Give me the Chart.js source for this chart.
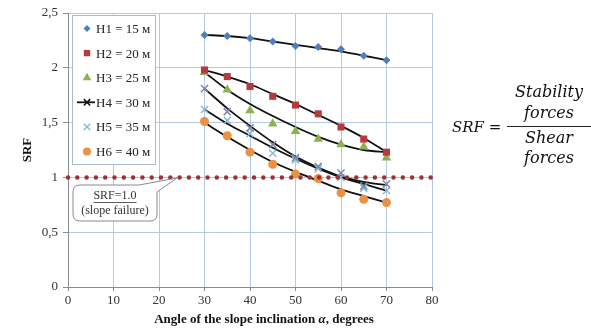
<!DOCTYPE html>
<html>
<head>
<meta charset="utf-8">
<script src="https://cdn.jsdelivr.net/npm/chart.js@4.4.0/dist/chart.umd.min.js"></script>
<style>
  body { margin: 0; background: #fff; }
  #wrap { position: relative; width: 591px; height: 329px; }
  #formula {
    position: absolute; left: 0; top: 0; width: 591px; height: 329px;
    font-family: 'DejaVu Serif', serif; font-style: italic; font-size: 16px; color: #111;
    pointer-events: none;
  }
  #formula div { position: absolute; white-space: nowrap; }
  .num { text-align: center; width: 86px; left: 506px; }
</style>
</head>
<body>
<div id="wrap">
  <canvas id="srfChart" width="591" height="329"></canvas>
  <div id="formula">
    <div style="left:452px; top:118px; font-size:15px;">SRF =</div>
    <div class="num" style="top:82px;">Stability</div>
    <div class="num" style="top:103px;">forces</div>
    <div style="left:507px; top:126px; width:84px; height:0; border-top:1.3px solid #222;"></div>
    <div class="num" style="top:128px;">Shear</div>
    <div class="num" style="top:148px;">forces</div>
  </div>
</div>
<script>
// slope angle, degrees
const angles = [30, 35, 40, 45, 50, 55, 60, 65, 70];

// SRF values
const h1 = [2.30, 2.29, 2.27, 2.24, 2.20, 2.19, 2.17, 2.11, 2.07];
const h2 = [1.98, 1.92, 1.83, 1.74, 1.66, 1.58, 1.46, 1.35, 1.23];
const h3 = [1.96, 1.80, 1.61, 1.49, 1.42, 1.35, 1.30, 1.28, 1.18];
const h4 = [1.81, 1.60, 1.45, 1.30, 1.18, 1.10, 1.04, 0.92, 0.94];
const h5 = [1.62, 1.52, 1.40, 1.22, 1.16, 1.08, 1.00, 0.90, 0.88];
const h6 = [1.51, 1.38, 1.23, 1.12, 1.03, 0.99, 0.86, 0.80, 0.77];

// black trend curves as drawn in the figure
const h1Trend = [2.30, 2.29, 2.27, 2.24, 2.21, 2.18, 2.15, 2.11, 2.07];
const h2Trend = [1.98, 1.92, 1.85, 1.76, 1.67, 1.57, 1.47, 1.36, 1.23];
const h3Trend = [1.96, 1.80, 1.67, 1.56, 1.46, 1.37, 1.30, 1.25, 1.23];
const h4Trend = [1.81, 1.63, 1.47, 1.32, 1.19, 1.09, 1.01, 0.96, 0.93];
const h5Trend = [1.62, 1.49, 1.38, 1.27, 1.17, 1.08, 1.00, 0.94, 0.88];
const h6Trend = [1.50, 1.37, 1.25, 1.14, 1.05, 0.97, 0.89, 0.83, 0.77];

const seriesNames = ['H1 = 15 м', 'H2 = 20 м', 'H3 = 25 м', 'H4 = 30 м', 'H5 = 35 м', 'H6 = 40 м'];

// failure threshold line
const failureX = [0, 80];
const failureSRF = 1.0;

const xTicks = [0, 10, 20, 30, 40, 50, 60, 70, 80];
const yTicks = [0, 0.5, 1, 1.5, 2, 2.5];

const serif = "'Liberation Serif', 'Times New Roman', serif";

function pts(ys) {
  return angles.map((a, i) => ({ x: a, y: ys[i] }));
}

const markerStyles = [
  { pointStyle: 'rectRot', color: '#4f7fbf', radius: 4 },
  { pointStyle: 'rect', color: '#b8393c', radius: 5 },
  { pointStyle: 'triangle', color: '#8fb04f', radius: 5.5 },
  { pointStyle: 'crossRot', color: '#7b87a6', radius: 5 },
  { pointStyle: 'crossRot', color: '#8bbad6', radius: 5 },
  { pointStyle: 'circle', color: '#eb9144', radius: 4.5 },
];

const allSeries = [h1, h2, h3, h4, h5, h6];
const allTrends = [h1Trend, h2Trend, h3Trend, h4Trend, h5Trend, h6Trend];

const datasets = [];

datasets.push({
  label: 'SRF=1.0',
  data: failureX.map(x => ({ x: x, y: failureSRF })),
  showLine: true,
  borderColor: '#9e2f33',
  borderWidth: 4.5,
  borderDash: [0, 9.3],
  borderCapStyle: 'round',
  pointRadius: 0,
  clip: false,
});

allSeries.forEach((s, i) => {
  const m = markerStyles[i];
  datasets.push({
    label: seriesNames[i],
    data: pts(s),
    showLine: false,
    pointStyle: m.pointStyle,
    pointRadius: m.radius,
    backgroundColor: m.color,
    borderColor: m.color,
    pointBorderWidth: m.pointStyle === 'crossRot' ? 1.5 : 0,
  });
});

allTrends.forEach((t, i) => {
  datasets.push({
    label: seriesNames[i] + ' trend',
    data: pts(t),
    showLine: true,
    borderColor: '#111',
    borderWidth: 1.8,
    cubicInterpolationMode: 'monotone',
    pointRadius: 0,
  });
});

// legend box, callout and x-axis title drawn by hand
const extras = {
  id: 'extras',
  afterDraw(chart) {
    const ctx = chart.ctx;
    ctx.save();

    // legend
    const lx = 72, ly = 15, lw = 83, lh = 149;
    ctx.fillStyle = '#fff';
    ctx.fillRect(lx, ly, lw, lh);
    ctx.strokeStyle = '#a9b9cf';
    ctx.lineWidth = 1;
    ctx.strokeRect(lx + 0.5, ly + 0.5, lw, lh);
    ctx.font = '13px ' + serif;
    ctx.textBaseline = 'middle';
    seriesNames.forEach((name, i) => {
      const y = 28.5 + i * 24.6;
      const m = markerStyles[i];
      if (i === 3) {
        ctx.strokeStyle = '#111';
        ctx.lineWidth = 1.8;
        ctx.beginPath();
        ctx.moveTo(77, y);
        ctx.lineTo(95, y);
        ctx.stroke();
      }
      ctx.fillStyle = i === 3 ? '#111' : m.color;
      ctx.strokeStyle = i === 3 ? '#111' : m.color;
      ctx.lineWidth = m.pointStyle === 'crossRot' ? 1.5 : 0;
      Chart.helpers.drawPoint(ctx, {
        pointStyle: m.pointStyle,
        radius: m.radius - 0.5,
        rotation: 0,
        borderWidth: m.pointStyle === 'crossRot' ? 1.5 : 0,
      }, 87, y);
      ctx.fillStyle = '#222';
      ctx.fillText(name, 96, y + 1);
    });

    // callout box for SRF = 1.0
    const bx = 73, by = 185, bw = 84, bh = 36, r = 7;
    ctx.beginPath();
    ctx.moveTo(bx + r, by);
    ctx.lineTo(bx + 66, by);
    ctx.lineTo(177, 178);
    ctx.lineTo(bx + bw, by + 7);
    ctx.lineTo(bx + bw, by + bh - r);
    ctx.quadraticCurveTo(bx + bw, by + bh, bx + bw - r, by + bh);
    ctx.lineTo(bx + r, by + bh);
    ctx.quadraticCurveTo(bx, by + bh, bx, by + bh - r);
    ctx.lineTo(bx, by + r);
    ctx.quadraticCurveTo(bx, by, bx + r, by);
    ctx.closePath();
    ctx.fillStyle = '#fff';
    ctx.fill();
    ctx.strokeStyle = '#8a8a8a';
    ctx.lineWidth = 1;
    ctx.stroke();

    ctx.fillStyle = '#333';
    ctx.font = '12px ' + serif;
    ctx.textAlign = 'center';
    ctx.fillText('SRF=1.0', bx + bw / 2, by + 11);
    const tw = ctx.measureText('SRF=1.0').width;
    ctx.fillRect(bx + bw / 2 - tw / 2, by + 17, tw, 0.8);
    ctx.fillText('(slope failure)', bx + bw / 2, by + 26);

    // x-axis title
    ctx.textAlign = 'left';
    ctx.fillStyle = '#111';
    const p1 = 'Angle of the slope inclination ';
    const p2 = 'α';
    const p3 = ', degrees';
    ctx.font = 'bold 13px ' + serif;
    const w1 = ctx.measureText(p1).width;
    const w3 = ctx.measureText(p3).width;
    ctx.font = 'italic bold 13px ' + serif;
    const w2 = ctx.measureText(p2).width;
    let x = 264 - (w1 + w2 + w3) / 2;
    const ty = 320;
    ctx.font = 'bold 13px ' + serif;
    ctx.fillText(p1, x, ty);
    ctx.font = 'italic bold 13px ' + serif;
    ctx.fillText(p2, x + w1, ty);
    ctx.font = 'bold 13px ' + serif;
    ctx.fillText(p3, x + w1 + w2, ty);

    ctx.restore();
  },
};

const ctx = document.getElementById('srfChart').getContext('2d');
new Chart(ctx, {
  type: 'scatter',
  data: { datasets: datasets },
  plugins: [extras],
  options: {
    responsive: false,
    animation: false,
    layout: { padding: { left: 20, right: 159, top: 13, bottom: 0 } },
    plugins: {
      legend: { display: false },
      tooltip: { enabled: false },
    },
    scales: {
      x: {
        type: 'linear',
        min: 0,
        max: 80,
        afterBuildTicks: (scale) => { scale.ticks = xTicks.map(v => ({ value: v })); },
        afterFit: (scale) => { scale.height = 42; },
        ticks: { font: { family: serif, size: 13 }, color: '#333', padding: 2 },
        grid: { color: '#b7c9e1', tickColor: '#8c8c8c', tickLength: 4 },
        border: { color: '#8c8c8c' },
      },
      y: {
        min: 0,
        max: 2.5,
        afterBuildTicks: (scale) => { scale.ticks = yTicks.map(v => ({ value: v })); },
        afterFit: (scale) => { scale.width = 48; },
        ticks: {
          font: { family: serif, size: 13 },
          color: '#333',
          padding: 5,
          callback: (v) => String(v).replace('.', ','),
        },
        title: {
          display: true,
          text: 'SRF',
          font: { family: serif, size: 13, weight: 'bold' },
          color: '#111',
          padding: { top: 0, bottom: 0 },
        },
        grid: { color: '#b7c9e1', tickColor: '#8c8c8c', tickLength: 5 },
        border: { color: '#8c8c8c' },
      },
    },
  },
});
</script>
</body>
</html>
